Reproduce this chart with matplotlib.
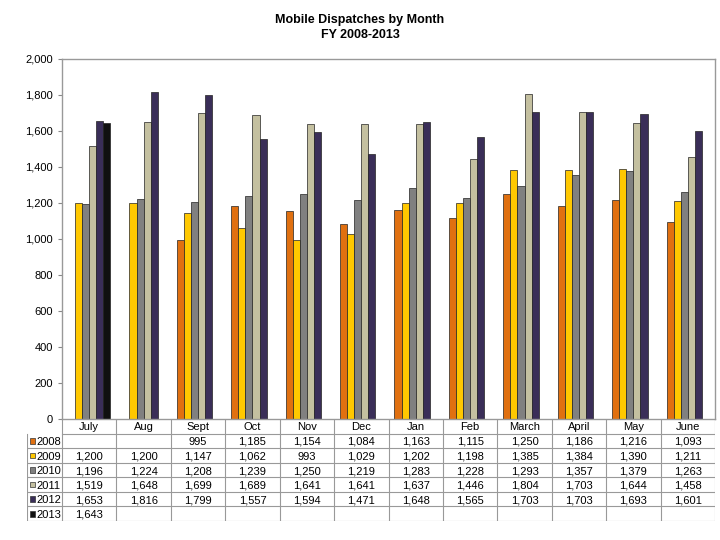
import matplotlib
matplotlib.use("Agg")
import matplotlib.pyplot as plt
from matplotlib.patches import Rectangle
import numpy as np

plt.rcParams['font.family'] = ['Liberation Sans', 'DejaVu Sans']

months = ["July", "Aug", "Sept", "Oct", "Nov", "Dec", "Jan", "Feb",
          "March", "April", "May", "June"]
years = ["2008", "2009", "2010", "2011", "2012", "2013"]

fy2008 = [None, None, 995, 1185, 1154, 1084, 1163, 1115, 1250, 1186, 1216, 1093]
fy2009 = [1200, 1200, 1147, 1062, 993, 1029, 1202, 1198, 1385, 1384, 1390, 1211]
fy2010 = [1196, 1224, 1208, 1239, 1250, 1219, 1283, 1228, 1293, 1357, 1379, 1263]
fy2011 = [1519, 1648, 1699, 1689, 1641, 1641, 1637, 1446, 1804, 1703, 1644, 1458]
fy2012 = [1653, 1816, 1799, 1557, 1594, 1471, 1648, 1565, 1703, 1703, 1693, 1601]
fy2013 = [1643, None, None, None, None, None, None, None, None, None, None, None]

series = [fy2008, fy2009, fy2010, fy2011, fy2012, fy2013]
colors = ["#E07010", "#FFC800", "#808080", "#C4C0A0", "#3A2E58", "#101010"]

W, H = 720, 540
fig = plt.figure(figsize=(7.2, 5.4), dpi=100)

def px_box(x0, y0, x1, y1):
    return [x0 / W, 1 - y1 / H, (x1 - x0) / W, (y1 - y0) / H]

ax = fig.add_axes(px_box(62, 59, 715, 419))
x = np.arange(len(months))
bw = 0.13
for i, (vals, c) in enumerate(zip(series, colors)):
    xs = [xi + (i - 2.5) * bw for xi, v in zip(x, vals) if v is not None]
    vs = [v for v in vals if v is not None]
    ax.bar(xs, vs, width=bw, color=c, edgecolor="#222222", linewidth=0.5)

ax.set_xlim(-0.5, len(months) - 0.5)
ax.set_ylim(0, 2000)
ax.set_yticks(range(0, 2001, 200))
ax.set_yticklabels([f"{v:,}" for v in range(0, 2001, 200)], fontsize=8)
ax.set_xticks([])
ax.tick_params(axis='y', length=3, color="#888888")
for s in ax.spines.values():
    s.set_color("#999999")
    s.set_linewidth(1)

fig.text(0.5, 1 - 20 / H, "Mobile Dispatches by Month", ha='center', va='center',
         fontsize=9, fontweight='bold')
fig.text(0.5, 1 - 35 / H, "FY 2008-2013", ha='center', va='center',
         fontsize=9, fontweight='bold')

# data table below the plot
lab_w = (62 - 27) / (653 / 12)
tx = fig.add_axes(px_box(27, 419, 715, 521))
tx.set_xlim(-0.5 - lab_w, len(months) - 0.5)
tx.set_ylim(7, 0)
tx.axis('off')
lc = "#999999"
nrows = len(years) + 1
# horizontal lines
tx.plot([-0.5, len(months) - 0.5], [1, 1], color=lc, lw=0.8)
for r in range(2, nrows + 1):
    tx.plot([-0.5 - lab_w, len(months) - 0.5], [r, r], color=lc, lw=0.8)
# vertical lines
for c in range(len(months) + 1):
    tx.plot([c - 0.5, c - 0.5], [0, nrows], color=lc, lw=0.8)
tx.plot([-0.5 - lab_w] * 2, [1, nrows], color=lc, lw=0.8)

for j, m in enumerate(months):
    tx.text(j, 0.78, m, ha='center', va='baseline', fontsize=8)
for i, (yr, vals, c) in enumerate(zip(years, series, colors)):
    r = i + 1.5
    tx.add_patch(Rectangle((-0.5 - lab_w + 0.05, r - 0.2), 0.1, 0.4,
                           facecolor=c, edgecolor="#333333", lw=0.5))
    tx.text(-0.5 - lab_w + 0.17, r + 0.28, yr, ha='left', va='baseline', fontsize=8)
    for j, v in enumerate(vals):
        if v is not None:
            tx.text(j, r + 0.28, f"{v:,}", ha='center', va='baseline', fontsize=8)

fig.savefig("out.png", dpi=100)
